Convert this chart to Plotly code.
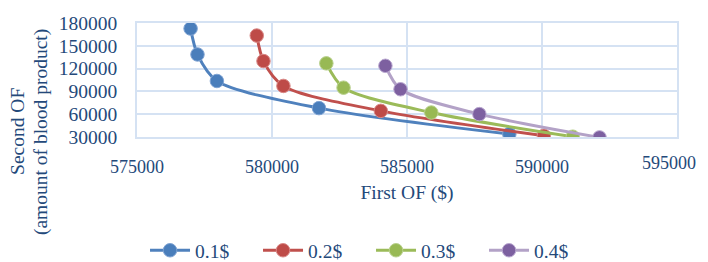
import plotly.graph_objects as go

series_names = ["0.1$", "0.2$", "0.3$", "0.4$"]
x_01 = [576985, 577240, 577960, 581740, 588790]
y_01 = [172700, 138600, 103700, 68000, 33900]
x_02 = [579436, 579684, 580423, 584030, 590070]
y_02 = [163500, 129900, 97200, 64400, 31700]
x_03 = [582013, 582650, 585900, 591140]
y_03 = [126900, 94900, 62200, 30400]
x_04 = [584200, 584760, 587680, 592130]
y_04 = [123700, 92800, 60100, 29500]

x_ticks = [575000, 580000, 585000, 590000, 595000]
y_ticks = [30000, 60000, 90000, 120000, 150000, 180000]

line_colors = ["#4F81BD", "#C0504D", "#9BBB59", "#B3A2C7"]
marker_colors = ["#4A7EBB", "#BE4B48", "#98B954", "#7D60A0"]
marker_edges = ["#7FA3D3", "#D98886", "#B9D18E", "#B9A7D0"]

text_color = "#24497A"
grid_color = "#D5E2F3"
font_family = "Liberation Serif, DejaVu Serif, serif"
fs = 19.5

fig = go.Figure()
for name, xs, ys, lc, mc, me in zip(series_names, [x_01, x_02, x_03, x_04],
                                     [y_01, y_02, y_03, y_04],
                                     line_colors, marker_colors, marker_edges):
    fig.add_trace(go.Scatter(
        x=xs, y=ys, name=name, mode="lines+markers",
        line=dict(color=lc, width=3, shape="spline", smoothing=0.8),
        marker=dict(color=mc, size=13.5, line=dict(color=me, width=1)),
    ))

# last x tick label is drawn as an annotation anchored at its tick so it is
# not clipped by the right edge of the page
x_ticktext = [str(v) for v in x_ticks[:-1]] + [""]

fig.update_layout(
    width=700, height=254,
    margin=dict(l=129, r=31, t=15, b=125),
    paper_bgcolor="white", plot_bgcolor="white",
    font=dict(family=font_family, size=fs, color=text_color),
    showlegend=True,
    legend=dict(orientation="h", xref="container", yref="container",
                x=0.5186, xanchor="center", y=0.045, yanchor="middle",
                font=dict(size=fs, color=text_color),
                entrywidth=58, itemwidth=40),
    annotations=[
        dict(text="Second OF", xref="paper", yref="paper", x=-0.22, y=0.046,
             xanchor="center", yanchor="middle", textangle=-90,
             showarrow=False, font=dict(size=fs, color=text_color)),
        dict(text="(amount of blood product)", xref="paper", yref="paper",
             x=-0.179, y=0.046, xanchor="center", yanchor="middle", textangle=-90,
             showarrow=False, font=dict(size=fs, color=text_color)),
        dict(text=str(x_ticks[-1]), xref="x", yref="paper", x=x_ticks[-1], y=0,
             xanchor="right", yanchor="middle", xshift=21, yshift=-26,
             showarrow=False, font=dict(size=18, color=text_color)),
    ],
)
fig.update_xaxes(
    range=[575000, 595000], tickvals=x_ticks, ticktext=x_ticktext,
    tickfont=dict(size=18),
    showgrid=True, gridcolor=grid_color, gridwidth=1.5,
    showline=True, linecolor=grid_color, linewidth=1.5, mirror=True,
    ticks="outside", ticklen=13, tickcolor="rgba(0,0,0,0)",
    ticklabeloverflow="allow",
    zeroline=False, automargin=False,
    title=dict(text="First OF ($)", standoff=9, font=dict(size=fs, color=text_color)),
)
fig.update_yaxes(
    range=[30000, 180000], tickvals=y_ticks, ticktext=[str(v) for v in y_ticks],
    showgrid=True, gridcolor=grid_color, gridwidth=1.5,
    showline=True, linecolor=grid_color, linewidth=1.5, mirror=True,
    ticks="outside", ticklen=14, tickcolor="rgba(0,0,0,0)",
    zeroline=False, automargin=False,
)

fig.write_html("out.html")
